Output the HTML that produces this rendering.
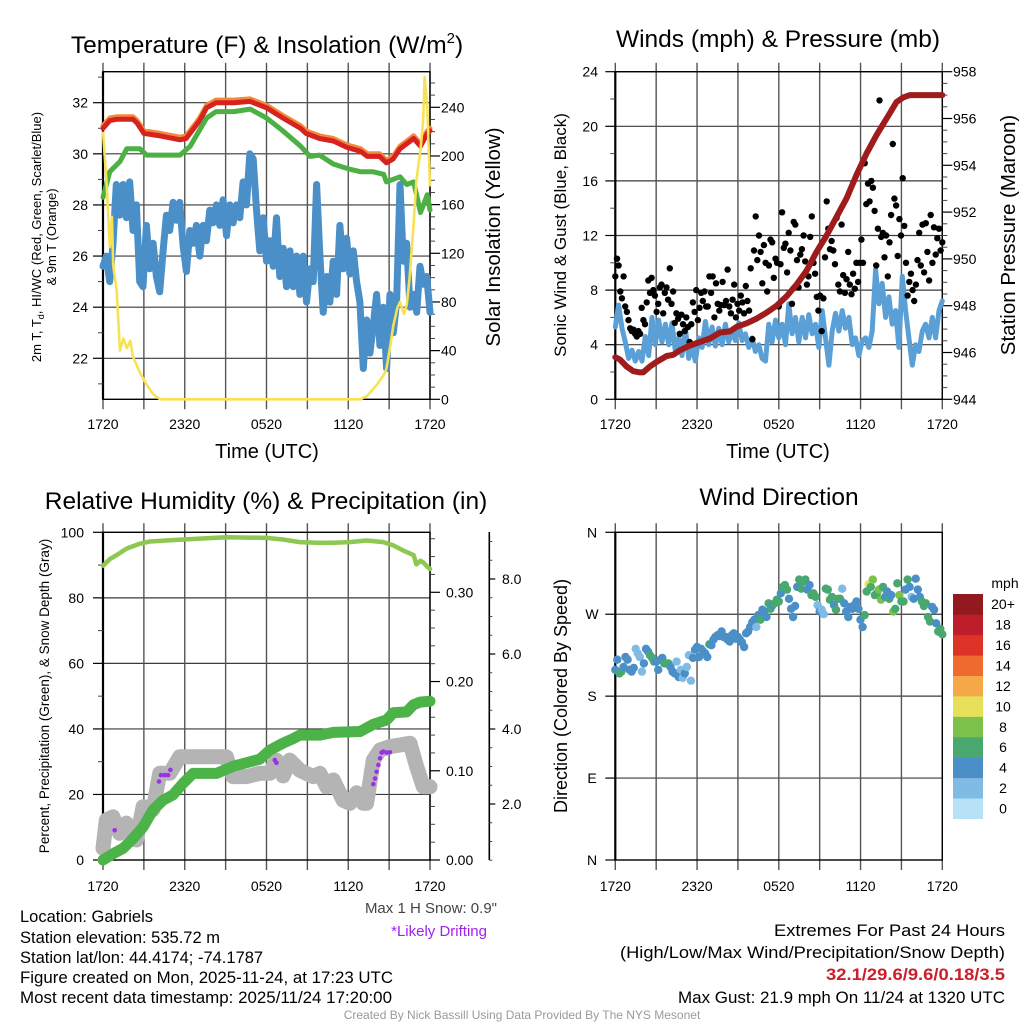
<!DOCTYPE html>
<html><head><meta charset="utf-8">
<style>
html,body{margin:0;padding:0;background:#fff;}
svg{display:block;font-family:"Liberation Sans",Arial,sans-serif;}
</style></head>
<body>
<svg id="chart" width="1024" height="1024" viewBox="0 0 1024 1024" xmlns="http://www.w3.org/2000/svg">
<rect x="0" y="0" width="1024" height="1024" fill="#fff"/>
<g id="g1"></g>
<g id="g2"></g>
<g id="g3"></g>
<g id="g4"></g>

<text x="267" y="53" font-size="24.5" text-anchor="middle">Temperature (F) &amp; Insolation (W/m<tspan dy="-10" font-size="15">2</tspan><tspan dy="10">)</tspan></text>
<text x="778" y="47" font-size="24.5" text-anchor="middle">Winds (mph) &amp; Pressure (mb)</text>
<text x="266" y="509" font-size="24.5" text-anchor="middle">Relative Humidity (%) &amp; Precipitation (in)</text>
<text x="779" y="505" font-size="24.5" text-anchor="middle">Wind Direction</text>

<text x="267" y="458" font-size="20" text-anchor="middle">Time (UTC)</text>
<text x="778" y="458" font-size="20" text-anchor="middle">Time (UTC)</text>

<g transform="translate(41,237) rotate(-90)">
<text x="0" y="0" font-size="13" text-anchor="middle">2m T, T<tspan font-size="9" dy="3">d</tspan><tspan dy="-3">, HI/WC (Red, Green, Scarlet/Blue)</tspan></text>
<text x="0" y="15" font-size="13" text-anchor="middle">&amp; 9m T (Orange)</text>
</g>
<text transform="translate(500,237) rotate(-90)" font-size="20.5" text-anchor="middle">Solar Insolation (Yellow)</text>
<text transform="translate(566,235) rotate(-90)" font-size="17" text-anchor="middle">Sonic Wind &amp; Gust (Blue, Black)</text>
<text transform="translate(1015,235) rotate(-90)" font-size="20.5" text-anchor="middle">Station Pressure (Maroon)</text>
<text transform="translate(49,696) rotate(-90)" font-size="13.5" text-anchor="middle">Percent, Precipitation (Green), &amp; Snow Depth (Gray)</text>
<text transform="translate(567,696) rotate(-90)" font-size="18" text-anchor="middle">Direction (Colored By Speed)</text>

<text x="497" y="913" font-size="15" fill="#444" text-anchor="end">Max 1 H Snow: 0.9"</text>
<text x="487" y="936" font-size="15" fill="#a020f0" text-anchor="end">*Likely Drifting</text>

<g font-size="16.5">
<text x="20" y="922">Location: Gabriels</text>
<text x="20" y="943">Station elevation: 535.72 m</text>
<text x="20" y="963">Station lat/lon: 44.4174; -74.1787</text>
<text x="20" y="983" textLength="373" lengthAdjust="spacingAndGlyphs">Figure created on Mon, 2025-11-24, at 17:23 UTC</text>
<text x="20" y="1003" textLength="372" lengthAdjust="spacingAndGlyphs">Most recent data timestamp: 2025/11/24 17:20:00</text>
</g>
<g font-size="16.5">
<text x="774" y="936" textLength="231" lengthAdjust="spacingAndGlyphs">Extremes For Past 24 Hours</text>
<text x="620" y="958" textLength="385" lengthAdjust="spacingAndGlyphs">(High/Low/Max Wind/Precipitation/Snow Depth)</text>
<text x="826" y="980" textLength="179" lengthAdjust="spacingAndGlyphs" fill="#cc1f2a" font-weight="bold">32.1/29.6/9.6/0.18/3.5</text>
<text x="678" y="1003" textLength="327" lengthAdjust="spacingAndGlyphs">Max Gust: 21.9 mph On 11/24 at 1320 UTC</text>
</g>
<text x="522" y="1019" font-size="12" fill="#9a9a9a" text-anchor="middle">Created By Nick Bassill Using Data Provided By The NYS Mesonet</text>
</svg>

<script>
// ---------------- DATA ----------------
const timeLabels = ["1720","2320","0520","1120","1720"];
const timeLabelHours = [0,6,12,18,24];
const gridHours = [0,3,6,9,12,15,18,21,24];

// Panel 1: temperature
const tempTicks = [22,24,26,28,30,32];
const insolTicks = [0,40,80,120,160,200,240];
const redHours = [0,0.5,1.0,2.2,2.5,3.0,4.2,5.65,6.1,7.1,7.6,8.3,9.6,10.8,12.0,13.2,14.5,14.9,15.9,16.9,17.9,18.9,19.4,20.3,20.8,21.3,21.8,22.8,23.3,23.8,24];
const redTemp = [31.0,31.3,31.35,31.35,31.2,30.8,30.7,30.55,30.6,31.3,31.8,32.0,32.0,32.05,31.8,31.4,31.0,30.8,30.6,30.5,30.25,30.1,29.9,29.9,29.65,29.8,30.2,30.6,30.3,30.8,30.9];
const orangeTemp = [31.1,31.4,31.45,31.45,31.3,30.9,30.8,30.65,30.7,31.4,31.9,32.1,32.1,32.15,31.9,31.5,31.1,30.9,30.7,30.6,30.35,30.2,30.0,30.0,29.75,29.9,30.3,30.7,30.4,30.9,31.0];
const greenHours = [0,0.5,1.25,1.75,2.7,3.2,5.65,6.4,7.6,8.3,9.6,10.8,12.0,13.2,14.5,15.2,15.9,16.9,18.1,18.9,19.8,20.6,20.8,21.8,22.3,22.8,23.3,23.8,24];
const greenTemp = [28.3,29.3,29.7,30.2,30.2,29.95,29.95,30.3,31.4,31.65,31.65,31.75,31.4,30.9,30.3,29.9,29.95,29.6,29.4,29.3,29.3,29.2,28.9,29.1,28.8,28.9,27.7,28.4,27.8];
const blueTemp = [25.6,26,25,26.5,28.8,27.6,28.8,27.5,28.9,27,
28,25,24.8,27.2,25.5,26.5,25.2,24.6,26.2,27.6,
27.0,28.1,27.4,28.1,26.4,25.4,27.0,26.5,27.2,26,
27.2,26.6,27.8,27.3,28.0,27.2,28.2,26.8,28.0,27.3,
28.0,27.5,28.9,28.0,30.0,29.8,27.8,26.2,27.5,25.8,
26.6,25.6,27.5,25.2,26.3,24.8,26.2,24.8,26.0,24.5,
26,24.2,25.5,25.0,28.8,26.0,23.8,25.2,24.2,25.8,
24.5,27.2,25.5,26.7,25.3,26.2,25.0,24.2,21.6,23.5,
22.2,23.3,24.5,22.5,24.0,21.6,24.5,23.0,24.2,28.8,
25.8,26.5,24.0,24.5,23.8,25.6,24.9,25.2,23.8];
const insolHours = [0,0.25,0.5,0.65,0.75,1.0,1.25,1.5,1.75,2.0,2.2,2.7,3.2,3.7,4.2,18.9,19.4,20.1,20.6,20.8,21.1,21.3,21.6,21.8,22.1,22.3,22.5,22.8,23.0,23.3,23.5,23.6,23.8,24];
const insolValues = [220,180,125,150,110,90,40,50,42,48,35,22,12,4,0,0,3,12,20,25,45,60,75,80,70,78,100,145,180,205,230,265,240,175];

// Panel 2: wind & pressure
const windTicks = [0,4,8,12,16,20,24];
const pressTicks = [944,946,948,950,952,954,956,958];
const windSpeed = [5.3,6.9,5.2,4.2,3.0,3.6,2.8,3.5,2.8,4.6,3.2,6.0,4.0,5.8,4.2,5.5,4.0,5.6,3.5,4.5,3.2,5.2,3.0,3.8,2.8,4.5,3.8,5.7,4.0,5.3,3.9,5.2,4.0,5.5,4.2,5.0,4.3,5.6,4.3,4.8,3.8,4.5,3.5,4.0,3.0,2.8,5.5,4.2,5.8,4.5,5.5,4.0,7.0,4.8,6.0,4.2,6.0,4.5,6.2,4.8,5.5,3.8,6.5,4.5,2.5,5.0,6.3,5.0,6.5,5.2,6.0,4.0,4.5,3.2,4.3,4.5,3.8,5.0,9.5,7.0,8.5,6.0,7.5,5.5,6.5,3.8,9.0,6.5,4.5,2.5,4.0,3.5,5.0,5.5,4.5,6.0,4.5,6.5,7.2];
const gustSpeed = [9.0,10.3,9.8,7.9,7.4,9.0,6.8,6.4,5.8,5.2,5.0,5.1,4.8,4.6,5.0,4.8,6.7,5.8,5.5,7.1,8.7,7.8,8.9,8.0,7.6,6.4,7.0,8.2,8.4,6.3,7.8,8.2,7.3,9.6,7.0,7.9,5.6,6.3,5.9,4.8,6.2,5.5,5.0,6.0,5.3,4.2,5.5,7.1,6.4,8.0,5.8,6.7,7.8,7.2,7.9,6.8,6.8,9.0,7.8,9.0,6.0,8.5,7.0,6.5,6.9,8.6,6.9,7.2,9.5,6.8,6.3,7.3,8.4,6.0,7.0,6.5,7.6,7.1,6.3,8.3,7.2,6.5,9.6,4.4,10.9,13.4,10.2,12.0,10.8,8.5,11.3,10.0,7.9,9.8,11.7,11.5,8.9,10.3,10.0,6.8,9.9,13.7,11.1,11.4,9.3,12.2,10.9,7.0,13.0,12.8,10.2,8.2,10.6,11.0,12.0,10.1,8.4,9.0,11.9,13.4,10.0,9.2,7.5,6.5,7.6,5.0,7.4,10.4,14.5,12.5,11.0,11.6,10.9,9.9,13.3,8.4,7.9,12.8,9.1,7.8,8.8,10.8,8.4,7.7,9.2,8.1,10.0,8.6,10.0,11.7,10.0,17.3,14.3,15.8,14.5,16.0,15.5,13.8,9.8,12.5,21.9,11.9,12.2,10.4,12.0,9.0,11.5,13.5,18.7,14.7,14.2,10.5,13.2,12.0,16.2,12.7,10.0,7.6,8.6,9.2,8.0,7.2,8.4,10.2,12.2,9.8,12.8,9.3,12.9,10.8,8.7,13.5,10.0,12.6,10.6,11.8,12.5,10.9,11.5];
const pressHours = [0,0.34,0.83,1.32,1.81,2.05,2.54,3.03,3.77,4.26,4.75,5.48,6.21,6.95,7.68,8.41,8.9,9.64,10.37,11.1,11.84,12.57,13.3,14.04,14.77,15.51,16.24,16.98,17.71,18.44,19.18,19.91,20.64,21.13,21.62,24];
const pressValues = [945.8,945.7,945.4,945.2,945.15,945.15,945.4,945.6,945.85,945.9,946.1,946.3,946.45,946.6,946.85,946.9,947.1,947.25,947.45,947.7,948.0,948.4,948.9,949.5,950.3,951.0,951.8,952.6,953.6,954.5,955.3,956.0,956.7,956.9,957.0,957.0];

// Panel 3: humidity, precip, snow
const pctTicks = [0,20,40,60,80,100];
const precipTicks = [0,0.1,0.2,0.3];
const precipTickLabels = ["0.00","0.10","0.20","0.30"];
const snowTicks = [2,4,6,8];
const snowTickLabels = ["2.0","4.0","6.0","8.0"];
const rhHours = [0,0.49,0.98,1.71,2.69,3.43,5.88,9.06,12.0,13.2,14.45,15.67,16.9,18.1,19.35,20.57,21.3,22.0,22.8,23.0,23.3,23.5,23.8,24];
const rhValues = [89.8,91.8,93,95,96.5,97.2,97.8,98.5,98.3,97.8,97.0,96.8,96.8,97.0,97.5,97.0,96.0,94.5,93.0,90.2,91.3,90.8,89.5,88.8];
const precipHours = [0,0.73,1.47,2.2,2.94,3.67,4.41,5.14,5.88,6.61,7.1,8.33,9.55,10.78,11.51,12.24,13.22,13.96,14.45,15.92,16.9,18.86,19.84,20.82,21.31,22.29,22.78,23.27,24];
const precipValues = [0,0.007,0.013,0.024,0.037,0.056,0.067,0.073,0.086,0.097,0.097,0.097,0.105,0.110,0.113,0.123,0.131,0.136,0.140,0.140,0.143,0.144,0.152,0.157,0.165,0.166,0.174,0.177,0.178];
const snowHours = [0,0.24,0.73,1.22,1.71,2.45,2.94,3.67,4.16,4.9,5.63,6.61,9.06,9.55,10.53,11.51,12.24,12.73,13.22,13.71,14.45,15.43,15.92,16.41,16.9,17.63,18.12,18.61,19.1,19.35,19.84,20.33,21.06,22.53,23.02,23.51,24];
const snowValues = [0.82,1.57,1.66,1.22,1.49,1.04,1.93,1.85,2.82,2.82,3.26,3.26,3.26,2.73,2.73,2.82,2.82,3.17,2.75,3.17,2.9,2.73,2.82,2.46,2.64,2.1,2.02,2.3,2.02,2.02,3.17,3.44,3.53,3.62,3.0,2.46,2.46];
const driftHours = [0.86,4.11,4.26,4.53,4.78,4.95,12.61,12.73,19.84,19.96,20.08,20.21,20.33,20.45,20.57,20.82,21.06];
const driftValues = [1.30,2.60,2.77,2.77,2.77,2.91,3.17,3.10,2.53,2.68,2.86,3.04,3.22,3.37,3.40,3.37,3.38];

// Panel 4: wind direction
const dirTicks = [360,270,180,90,0];
const dirTickLabels = ["N","W","S","E","N"];
const dirDegrees = [209,220,205,207,212,223,220,209,207,211,232,227,223,207,216,232,229,225,222,218,218,209,220,222,216,216,216,212,207,205,218,201,209,200,205,212,225,197,222,231,234,223,232,229,227,223,237,236,242,245,247,246,251,245,245,242,240,247,249,243,245,242,239,234,249,251,256,261,264,256,269,264,275,273,267,282,276,280,282,286,284,293,300,302,297,287,276,267,279,300,308,298,306,308,297,302,291,293,289,280,273,275,270,298,297,286,289,280,275,287,287,298,282,273,267,278,276,280,284,276,264,256,269,295,303,300,308,291,293,297,286,300,289,295,287,291,273,276,304,291,284,284,297,308,300,289,287,309,297,289,284,279,282,267,262,278,275,260,251,254,248];
const dirSpeeds = [5,5,7,7,5,5,5,5,5,5,3,3,3,3,5,5,5,7,7,7,5,5,5,5,7,7,7,5,5,5,3,5,3,3,5,3,3,3,5,5,5,5,5,5,5,5,7,5,5,5,5,5,5,5,5,5,5,5,5,5,5,5,5,5,5,5,5,5,5,3,5,7,5,5,5,7,7,5,7,7,7,5,7,7,7,5,5,5,5,5,7,7,7,7,5,5,7,7,7,3,5,3,3,7,7,7,7,5,7,7,7,3,5,5,5,5,5,5,5,5,5,5,7,7,11,7,9,7,7,9,9,7,5,5,7,5,9,7,7,9,7,7,5,7,5,3,5,5,5,5,7,7,7,7,7,5,5,5,7,7,7];
const speedBins = [0,2,4,6,8,10,12,14,16,18,20];
const speedBinLabels = ["0","2","4","6","8","10","12","14","16","18","20+"];
const speedColors = ["#b6e1f7","#7fbbe4","#4a8fc7","#48a870","#7cc24a","#e6e05a","#f5a848","#ef6a2e","#dd3327","#be1e2a","#921a1e"];

// ---------------- HELPERS ----------------
const NS = "http://www.w3.org/2000/svg";
function mk(parent, tag, attrs, text) {
  const el = document.createElementNS(NS, tag);
  for (const k in attrs) el.setAttribute(k, attrs[k]);
  if (text !== undefined) el.textContent = text;
  parent.appendChild(el);
  return el;
}
function lin(d0, d1, r0, r1) { return v => r0 + (v - d0) / (d1 - d0) * (r1 - r0); }
function uniformHours(n) { const a = []; for (let i = 0; i < n; i++) a.push(i / (n - 1) * 24); return a; }
function pathOf(xs, ys, xf, yf) {
  let d = "";
  for (let i = 0; i < xs.length; i++) d += (i ? "L" : "M") + xf(xs[i]).toFixed(1) + "," + yf(ys[i]).toFixed(1);
  return d;
}
function speedColor(s) { let i = Math.floor(s / 2); if (i > 10) i = 10; if (i < 0) i = 0; return speedColors[i]; }

function frame(g, X0, X1, Y0, Y1, xf, hGrid, prefix, labelY) {
  hGrid.forEach(y => {
    const ln = mk(g, "line", {x1: X0, x2: X1, y1: y, y2: y, stroke: "#3a3a3a", "stroke-width": 1.2});
    
    
  });
  gridHours.forEach(h => {
    const x = xf(h);
    const ln = mk(g, "line", {x1: x, x2: x, y1: Y0 - 9, y2: Y1 + 10, stroke: "#555", "stroke-width": 1.4});
    
    
  });
  const bx = mk(g, "rect", {x: X0, y: Y0, width: X1 - X0, height: Y1 - Y0, fill: "none", stroke: "#000", "stroke-width": 1.4});
  
  
  const la = mk(g, "line", {x1: X0, x2: X0, y1: Y0, y2: Y1, stroke: "#000", "stroke-width": 2.2});
  
  
  timeLabels.forEach((t, i) => {
    const tx = mk(g, "text", {x: xf(timeLabelHours[i]), y: labelY, "font-size": 14, "text-anchor": "middle"}, t);
    
    
  });
}
function yTicks(g, xAxis, dir, vals, labels, yf, minorVals, prefix, labelX, anchor, majLen) {
  const ml = majLen || 10;
  vals.forEach((v, i) => {
    const y = yf(v);
    const t = mk(g, "line", {x1: xAxis, x2: xAxis + dir * ml, y1: y, y2: y, stroke: "#000", "stroke-width": 1.2});
    
    
    const tx = mk(g, "text", {x: labelX, y: y + 5, "font-size": 14, "text-anchor": anchor}, labels[i]);
    
    
  });
  minorVals.forEach(v => {
    const y = yf(v);
    const t = mk(g, "line", {x1: xAxis, x2: xAxis + dir * ml * 0.5, y1: y, y2: y, stroke: "#444", "stroke-width": 1});
    
    
  });
}
function range(a, b, s) { const r = []; for (let v = a; v <= b + 1e-9; v += s) r.push(+v.toFixed(4)); return r; }

// ---------------- PANEL 1 ----------------
(function(){
  const g = document.getElementById("g1");
  const X0 = 103, X1 = 430, Y0 = 71.7, Y1 = 399.3;
  const xf = lin(0, 24, X0, X1);
  const tY = lin(32, 22, 102.7, 358.3);
  const iY = lin(0, 240, 399.3, 107.3);
  frame(g, X0, X1, Y0, Y1, xf, tempTicks.map(tY), "temp", 429);
  yTicks(g, X0, -1, tempTicks, tempTicks.map(String), tY, [21,23,25,27,29,31,33], "temp-axis", 88, "end");
  yTicks(g, X1, 1, insolTicks, insolTicks.map(String), iY, range(10, 260, 10).filter(v => v % 40 !== 0), "insolation-axis", 441, "start");
  const o = mk(g, "path", {d: pathOf(redHours, orangeTemp, xf, tY), fill: "none", stroke: "#f4893a", "stroke-width": 5, "stroke-linejoin": "round", "stroke-linecap": "round"});
  
  
  const r = mk(g, "path", {d: pathOf(redHours, redTemp, xf, tY), fill: "none", stroke: "#d7231f", "stroke-width": 5, "stroke-linejoin": "round", "stroke-linecap": "round"});
  
  
  const gr = mk(g, "path", {d: pathOf(greenHours, greenTemp, xf, tY), fill: "none", stroke: "#4cb043", "stroke-width": 5, "stroke-linejoin": "round", "stroke-linecap": "round"});
  
  
  const b = mk(g, "path", {d: pathOf(uniformHours(blueTemp.length), blueTemp, xf, tY), fill: "none", stroke: "#4a8fc7", "stroke-width": 7, "stroke-linejoin": "round", "stroke-linecap": "round"});
  
  
  const y = mk(g, "path", {d: pathOf(insolHours, insolValues, xf, iY), fill: "none", stroke: "#f7e255", "stroke-width": 2.6, "stroke-linejoin": "round"});
  
  
})();

// ---------------- PANEL 2 ----------------
(function(){
  const g = document.getElementById("g2");
  const X0 = 615.3, X1 = 942.3, Y0 = 71.7, Y1 = 399.3;
  const xf = lin(0, 24, X0, X1);
  const wY = lin(0, 24, Y1, Y0);
  const pY = lin(944, 958, Y1, Y0);
  frame(g, X0, X1, Y0, Y1, xf, windTicks.map(wY), "wind", 429);
  yTicks(g, X0, -1, windTicks, windTicks.map(String), wY, range(2, 22, 4), "wind-axis", 598, "end");
  yTicks(g, X1, 1, pressTicks, pressTicks.map(String), pY, range(944.5, 957.5, 0.5).filter(v => v % 2 !== 0), "pressure-axis", 953, "start");
  const w = mk(g, "path", {d: pathOf(uniformHours(windSpeed.length), windSpeed, xf, wY), fill: "none", stroke: "#5a9fd6", "stroke-width": 5, "stroke-linejoin": "round", "stroke-linecap": "round"});
  
  
  const gh = uniformHours(gustSpeed.length);
  gustSpeed.forEach((v, i) => {
    const c = mk(g, "circle", {cx: xf(gh[i]).toFixed(1), cy: wY(v).toFixed(1), r: 3.2, fill: "#000"});
    
    
  });
  const p = mk(g, "path", {d: pathOf(pressHours, pressValues, xf, pY), fill: "none", stroke: "#a01c1c", "stroke-width": 6, "stroke-linejoin": "round", "stroke-linecap": "round"});
  
  
})();

// ---------------- PANEL 3 ----------------
(function(){
  const g = document.getElementById("g3");
  const X0 = 103, X1 = 430, Y0 = 532.3, Y1 = 860;
  const xf = lin(0, 24, X0, X1);
  const vY = lin(0, 100, Y1, Y0);
  const prY = lin(0, 0.3, 860, 592.3);
  const sY = lin(0, 8, 879, 579);
  frame(g, X0, X1, Y0, Y1, xf, [20,40,60,80].map(vY), "humidity", 891);
  yTicks(g, X0, -1, pctTicks, pctTicks.map(String), vY, [10,30,50,70,90], "percent-axis", 84, "end");
  yTicks(g, X1, 1, precipTicks, precipTickLabels, prY, range(0.02, 0.36, 0.02).filter(v => Math.abs(v*10 - Math.round(v*10)) > 0.01), "precip-axis", 446, "start");
  const sa = mk(g, "line", {x1: 489.3, x2: 489.3, y1: 532, y2: 860, stroke: "#000", "stroke-width": 1.6});
  
  
  yTicks(g, 489.3, 1, snowTicks, snowTickLabels, sY, [0.5,1,1.5,2.5,3,3.5,4.5,5,5.5,6.5,7,7.5,8.5,9], "snow-axis", 502, "start", 6);
  const s = mk(g, "path", {d: pathOf(snowHours, snowValues, xf, sY), fill: "none", stroke: "#b4b4b4", "stroke-width": 15, "stroke-linejoin": "round", "stroke-linecap": "round"});
  
  
  driftHours.forEach((h, i) => {
    const c = mk(g, "circle", {cx: xf(h).toFixed(1), cy: sY(driftValues[i]).toFixed(1), r: 2.3, fill: "#9b30e8"});
    
    
  });
  const pr = mk(g, "path", {d: pathOf(precipHours, precipValues, xf, prY), fill: "none", stroke: "#4cb348", "stroke-width": 11, "stroke-linejoin": "round", "stroke-linecap": "round"});
  
  
  const rh = mk(g, "path", {d: pathOf(rhHours, rhValues, xf, vY), fill: "none", stroke: "#8dc850", "stroke-width": 4.5, "stroke-linejoin": "round", "stroke-linecap": "round"});
  
  
})();

// ---------------- PANEL 4 ----------------
(function(){
  const g = document.getElementById("g4");
  const X0 = 615.3, X1 = 942.3, Y0 = 532.3, Y1 = 860;
  const xf = lin(0, 24, X0, X1);
  const dY = lin(0, 360, Y1, Y0);
  frame(g, X0, X1, Y0, Y1, xf, [90,180,270].map(dY), "direction", 891);
  yTicks(g, X0, -1, dirTicks, dirTickLabels, dY, [], "direction-axis", 592, "middle");
  const dh = uniformHours(dirDegrees.length);
  dirDegrees.forEach((d, i) => {
    const c = mk(g, "circle", {cx: xf(dh[i]).toFixed(1), cy: dY(d).toFixed(1), r: 4.2, fill: speedColor(dirSpeeds[i])});
    
    
  });
  const cbX = 953, cbW = 30, cbTop = 594, cbBot = 818.7;
  const cbY = lin(0, 22, cbBot, cbTop);
  speedBins.forEach((b, i) => {
    const r = mk(g, "rect", {x: cbX, y: cbY(b + 2).toFixed(1), width: cbW, height: (cbY(b) - cbY(b + 2) + 0.3).toFixed(1), fill: speedColors[i]});
    
    
    const t = mk(g, "text", {x: 1003, y: (cbY(b + 1) + 5).toFixed(1), "font-size": 14, "text-anchor": "middle"}, speedBinLabels[i]);
    
    
  });
  const u = mk(g, "text", {x: 1005, y: 588, "font-size": 14, "text-anchor": "middle"}, "mph");
  
  
})();
</script>
</body></html>
